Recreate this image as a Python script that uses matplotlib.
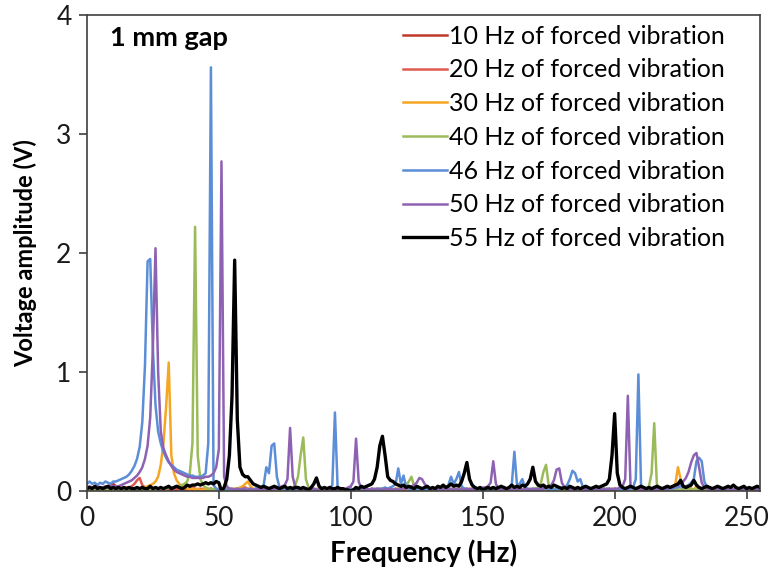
import numpy as np
import matplotlib.pyplot as plt

plt.rcParams['font.family'] = ['Lato', 'DejaVu Sans']

# spectrum grid, 1 Hz resolution
freq = np.arange(0, 256)

labels = ['10 Hz of forced vibration', '20 Hz of forced vibration', '30 Hz of forced vibration',
          '40 Hz of forced vibration', '46 Hz of forced vibration', '50 Hz of forced vibration',
          '55 Hz of forced vibration']

amp_10 = [
    0.01, 0.01, 0.01, 0.02, 0.02, 0.02, 0.03, 0.03, 0.04, 0.05, 0.06, 0.04, 0.02, 0.02, 0.01, 0.01,
    0.01, 0.01, 0.02, 0.01, 0.01, 0.01, 0.02, 0.01, 0.01, 0.01, 0.02, 0.01, 0.01, 0.01, 0.02, 0.01,
    0.01, 0.01, 0.01, 0.02, 0.01, 0.01, 0.01, 0.02, 0.01, 0.01, 0.01, 0.02, 0.01, 0.01, 0.01, 0.02,
    0.01, 0.01, 0.00, 0.01, 0.01, 0.01, 0.00, 0.01, 0.01, 0.01, 0.00, 0.01, 0.01, 0.01, 0.00, 0.01,
    0.01, 0.00, 0.01, 0.01, 0.00, 0.01, 0.01, 0.00, 0.01, 0.01, 0.00, 0.01, 0.01, 0.00, 0.01, 0.01,
    0.00, 0.01, 0.01, 0.00, 0.01, 0.01, 0.00, 0.01, 0.01, 0.00, 0.01, 0.01, 0.00, 0.01, 0.01, 0.00,
    0.01, 0.01, 0.00, 0.01, 0.01, 0.00, 0.01, 0.01, 0.00, 0.01, 0.01, 0.00, 0.01, 0.01, 0.00, 0.01,
    0.01, 0.00, 0.01, 0.01, 0.00, 0.01, 0.01, 0.00, 0.01, 0.01, 0.00, 0.01, 0.01, 0.00, 0.01, 0.01,
    0.00, 0.01, 0.01, 0.00, 0.01, 0.01, 0.00, 0.01, 0.01, 0.00, 0.01, 0.01, 0.00, 0.01, 0.01, 0.00,
    0.01, 0.01, 0.00, 0.01, 0.01, 0.00, 0.01, 0.01, 0.00, 0.01, 0.01, 0.00, 0.01, 0.01, 0.00, 0.01,
    0.01, 0.00, 0.01, 0.01, 0.00, 0.01, 0.01, 0.00, 0.01, 0.01, 0.00, 0.01, 0.01, 0.00, 0.01, 0.01,
    0.00, 0.01, 0.01, 0.00, 0.01, 0.01, 0.00, 0.01, 0.01, 0.00, 0.01, 0.01, 0.00, 0.01, 0.01, 0.00,
    0.01, 0.01, 0.00, 0.01, 0.01, 0.00, 0.01, 0.01, 0.00, 0.01, 0.01, 0.00, 0.01, 0.01, 0.00, 0.01,
    0.01, 0.00, 0.01, 0.01, 0.00, 0.01, 0.01, 0.00, 0.01, 0.01, 0.00, 0.01, 0.01, 0.00, 0.01, 0.01,
    0.00, 0.01, 0.01, 0.00, 0.01, 0.01, 0.00, 0.01, 0.01, 0.00, 0.01, 0.01, 0.00, 0.01, 0.01, 0.00,
    0.01, 0.01, 0.00, 0.01, 0.01, 0.00, 0.01, 0.01, 0.00, 0.01, 0.01, 0.00, 0.01, 0.01, 0.00, 0.01,
]

amp_20 = [
    0.02, 0.02, 0.02, 0.02, 0.02, 0.02, 0.02, 0.02, 0.03, 0.03, 0.03, 0.02, 0.02, 0.02, 0.03, 0.03,
    0.03, 0.04, 0.06, 0.09, 0.11, 0.05, 0.03, 0.02, 0.02, 0.01, 0.01, 0.02, 0.01, 0.01, 0.02, 0.01,
    0.01, 0.01, 0.02, 0.01, 0.01, 0.02, 0.01, 0.02, 0.03, 0.02, 0.01, 0.01, 0.02, 0.01, 0.01, 0.02,
    0.01, 0.01, 0.02, 0.01, 0.01, 0.02, 0.01, 0.01, 0.02, 0.01, 0.02, 0.03, 0.03, 0.02, 0.01, 0.01,
    0.02, 0.01, 0.01, 0.02, 0.01, 0.01, 0.02, 0.01, 0.01, 0.02, 0.01, 0.01, 0.02, 0.01, 0.01, 0.02,
    0.01, 0.01, 0.02, 0.01, 0.01, 0.02, 0.01, 0.01, 0.02, 0.01, 0.01, 0.02, 0.01, 0.01, 0.02, 0.01,
    0.01, 0.02, 0.01, 0.01, 0.02, 0.01, 0.01, 0.02, 0.01, 0.01, 0.02, 0.01, 0.01, 0.02, 0.01, 0.01,
    0.02, 0.01, 0.01, 0.02, 0.01, 0.01, 0.02, 0.01, 0.01, 0.02, 0.01, 0.01, 0.02, 0.01, 0.01, 0.02,
    0.01, 0.01, 0.02, 0.01, 0.01, 0.02, 0.01, 0.01, 0.02, 0.01, 0.01, 0.02, 0.01, 0.01, 0.02, 0.01,
    0.01, 0.02, 0.01, 0.01, 0.02, 0.01, 0.01, 0.02, 0.01, 0.01, 0.02, 0.01, 0.01, 0.02, 0.01, 0.01,
    0.02, 0.01, 0.01, 0.02, 0.01, 0.01, 0.02, 0.01, 0.01, 0.02, 0.01, 0.01, 0.02, 0.01, 0.01, 0.02,
    0.01, 0.01, 0.02, 0.01, 0.01, 0.02, 0.01, 0.01, 0.02, 0.01, 0.01, 0.02, 0.01, 0.01, 0.02, 0.01,
    0.01, 0.02, 0.01, 0.01, 0.02, 0.01, 0.01, 0.02, 0.01, 0.01, 0.02, 0.01, 0.01, 0.02, 0.01, 0.01,
    0.02, 0.01, 0.01, 0.02, 0.01, 0.01, 0.02, 0.01, 0.01, 0.02, 0.01, 0.01, 0.02, 0.01, 0.01, 0.02,
    0.01, 0.01, 0.02, 0.01, 0.01, 0.02, 0.01, 0.01, 0.02, 0.01, 0.01, 0.02, 0.01, 0.01, 0.02, 0.01,
    0.01, 0.02, 0.01, 0.01, 0.02, 0.01, 0.01, 0.02, 0.01, 0.01, 0.02, 0.01, 0.01, 0.02, 0.01, 0.01,
]

amp_30 = [
    0.01, 0.01, 0.02, 0.01, 0.01, 0.01, 0.02, 0.01, 0.01, 0.01, 0.02, 0.01, 0.01, 0.01, 0.02, 0.01,
    0.01, 0.01, 0.02, 0.02, 0.02, 0.03, 0.03, 0.04, 0.05, 0.06, 0.08, 0.12, 0.22, 0.40, 0.70, 1.08,
    0.30, 0.15, 0.09, 0.06, 0.04, 0.03, 0.02, 0.02, 0.02, 0.01, 0.02, 0.01, 0.01, 0.02, 0.01, 0.01,
    0.02, 0.01, 0.01, 0.02, 0.01, 0.01, 0.02, 0.01, 0.02, 0.02, 0.03, 0.04, 0.06, 0.08, 0.04, 0.02,
    0.01, 0.01, 0.02, 0.01, 0.01, 0.02, 0.01, 0.01, 0.02, 0.01, 0.01, 0.02, 0.01, 0.01, 0.02, 0.01,
    0.01, 0.02, 0.01, 0.01, 0.02, 0.01, 0.01, 0.02, 0.01, 0.01, 0.02, 0.01, 0.01, 0.02, 0.01, 0.01,
    0.02, 0.01, 0.01, 0.02, 0.01, 0.01, 0.02, 0.01, 0.01, 0.02, 0.01, 0.01, 0.02, 0.01, 0.01, 0.02,
    0.01, 0.01, 0.02, 0.01, 0.01, 0.02, 0.01, 0.01, 0.02, 0.01, 0.02, 0.03, 0.02, 0.01, 0.01, 0.02,
    0.01, 0.01, 0.02, 0.01, 0.01, 0.02, 0.01, 0.01, 0.02, 0.01, 0.01, 0.02, 0.01, 0.01, 0.02, 0.01,
    0.01, 0.02, 0.01, 0.01, 0.02, 0.01, 0.01, 0.02, 0.01, 0.01, 0.02, 0.01, 0.01, 0.02, 0.01, 0.01,
    0.02, 0.01, 0.01, 0.02, 0.01, 0.01, 0.02, 0.01, 0.01, 0.02, 0.01, 0.01, 0.02, 0.01, 0.01, 0.02,
    0.01, 0.01, 0.02, 0.01, 0.01, 0.02, 0.01, 0.01, 0.02, 0.01, 0.01, 0.02, 0.01, 0.01, 0.02, 0.01,
    0.01, 0.02, 0.01, 0.01, 0.02, 0.01, 0.01, 0.02, 0.01, 0.01, 0.02, 0.01, 0.01, 0.02, 0.01, 0.01,
    0.02, 0.01, 0.01, 0.02, 0.01, 0.01, 0.02, 0.01, 0.01, 0.02, 0.01, 0.01, 0.02, 0.01, 0.02, 0.06,
    0.20, 0.10, 0.03, 0.02, 0.01, 0.02, 0.01, 0.04, 0.02, 0.01, 0.02, 0.01, 0.01, 0.02, 0.01, 0.01,
    0.01, 0.02, 0.01, 0.01, 0.02, 0.01, 0.01, 0.02, 0.01, 0.01, 0.02, 0.01, 0.01, 0.02, 0.01, 0.01,
]

amp_40 = [
    0.01, 0.02, 0.01, 0.01, 0.02, 0.01, 0.01, 0.02, 0.01, 0.01, 0.02, 0.01, 0.01, 0.02, 0.01, 0.01,
    0.02, 0.01, 0.01, 0.02, 0.01, 0.01, 0.02, 0.01, 0.01, 0.02, 0.01, 0.02, 0.02, 0.02, 0.02, 0.03,
    0.03, 0.03, 0.04, 0.04, 0.05, 0.06, 0.08, 0.15, 0.40, 2.22, 0.30, 0.10, 0.05, 0.03, 0.02, 0.02,
    0.01, 0.02, 0.01, 0.01, 0.02, 0.01, 0.01, 0.02, 0.01, 0.01, 0.02, 0.01, 0.01, 0.02, 0.01, 0.01,
    0.02, 0.01, 0.01, 0.02, 0.01, 0.01, 0.02, 0.01, 0.01, 0.02, 0.01, 0.01, 0.02, 0.02, 0.03, 0.05,
    0.12, 0.30, 0.45, 0.10, 0.03, 0.02, 0.01, 0.01, 0.02, 0.01, 0.01, 0.02, 0.01, 0.01, 0.02, 0.01,
    0.01, 0.02, 0.01, 0.01, 0.02, 0.01, 0.01, 0.02, 0.01, 0.01, 0.02, 0.01, 0.01, 0.02, 0.01, 0.01,
    0.02, 0.01, 0.01, 0.02, 0.01, 0.01, 0.02, 0.02, 0.03, 0.05, 0.08, 0.12, 0.04, 0.02, 0.01, 0.01,
    0.02, 0.01, 0.01, 0.02, 0.01, 0.01, 0.02, 0.01, 0.01, 0.02, 0.01, 0.01, 0.02, 0.01, 0.01, 0.02,
    0.01, 0.01, 0.02, 0.01, 0.01, 0.02, 0.01, 0.01, 0.02, 0.01, 0.01, 0.02, 0.01, 0.01, 0.02, 0.01,
    0.01, 0.02, 0.01, 0.01, 0.02, 0.01, 0.01, 0.02, 0.01, 0.02, 0.02, 0.03, 0.06, 0.16, 0.22, 0.05,
    0.02, 0.01, 0.01, 0.02, 0.01, 0.01, 0.02, 0.01, 0.01, 0.02, 0.01, 0.01, 0.02, 0.01, 0.01, 0.02,
    0.01, 0.01, 0.02, 0.01, 0.01, 0.02, 0.01, 0.01, 0.02, 0.01, 0.01, 0.02, 0.01, 0.01, 0.02, 0.01,
    0.01, 0.02, 0.01, 0.02, 0.02, 0.04, 0.15, 0.57, 0.06, 0.02, 0.01, 0.01, 0.02, 0.01, 0.01, 0.02,
    0.01, 0.01, 0.02, 0.01, 0.01, 0.02, 0.01, 0.01, 0.02, 0.01, 0.01, 0.02, 0.01, 0.01, 0.02, 0.01,
    0.01, 0.02, 0.01, 0.01, 0.02, 0.01, 0.01, 0.02, 0.01, 0.01, 0.02, 0.01, 0.01, 0.02, 0.01, 0.01,
]

amp_46 = [
    0.06, 0.08, 0.06, 0.07, 0.05, 0.07, 0.06, 0.08, 0.07, 0.06, 0.08, 0.08, 0.09, 0.10, 0.11, 0.12,
    0.14, 0.17, 0.21, 0.27, 0.37, 0.58, 1.05, 1.93, 1.95, 1.20, 0.72, 0.50, 0.40, 0.33, 0.28, 0.24,
    0.22, 0.20, 0.18, 0.17, 0.16, 0.15, 0.14, 0.13, 0.13, 0.12, 0.12, 0.12, 0.13, 0.15, 0.40, 3.56,
    0.05, 0.02, 0.01, 0.02, 0.01, 0.01, 0.02, 0.01, 0.01, 0.02, 0.01, 0.01, 0.02, 0.01, 0.02, 0.01,
    0.02, 0.02, 0.03, 0.05, 0.20, 0.15, 0.38, 0.40, 0.12, 0.03, 0.02, 0.01, 0.01, 0.02, 0.01, 0.01,
    0.02, 0.01, 0.01, 0.02, 0.01, 0.01, 0.02, 0.01, 0.01, 0.02, 0.01, 0.02, 0.02, 0.05, 0.66, 0.04,
    0.01, 0.02, 0.01, 0.01, 0.02, 0.01, 0.01, 0.02, 0.01, 0.02, 0.01, 0.01, 0.02, 0.01, 0.02, 0.02,
    0.02, 0.03, 0.02, 0.03, 0.04, 0.06, 0.19, 0.06, 0.13, 0.03, 0.02, 0.01, 0.02, 0.01, 0.02, 0.01,
    0.01, 0.02, 0.01, 0.02, 0.02, 0.03, 0.02, 0.03, 0.03, 0.05, 0.12, 0.06, 0.10, 0.16, 0.04, 0.02,
    0.02, 0.01, 0.02, 0.01, 0.02, 0.01, 0.01, 0.02, 0.01, 0.01, 0.02, 0.01, 0.02, 0.02, 0.01, 0.02,
    0.02, 0.05, 0.33, 0.05, 0.06, 0.10, 0.03, 0.02, 0.01, 0.02, 0.01, 0.02, 0.01, 0.02, 0.02, 0.01,
    0.02, 0.01, 0.02, 0.02, 0.03, 0.03, 0.05, 0.10, 0.17, 0.15, 0.08, 0.10, 0.03, 0.02, 0.01, 0.02,
    0.01, 0.02, 0.01, 0.02, 0.01, 0.02, 0.02, 0.01, 0.02, 0.01, 0.02, 0.01, 0.02, 0.01, 0.02, 0.03,
    0.10, 0.98, 0.05, 0.02, 0.01, 0.02, 0.01, 0.02, 0.01, 0.02, 0.01, 0.02, 0.01, 0.02, 0.02, 0.03,
    0.03, 0.04, 0.03, 0.04, 0.05, 0.07, 0.10, 0.25, 0.28, 0.25, 0.08, 0.03, 0.02, 0.02, 0.01, 0.02,
    0.01, 0.02, 0.01, 0.02, 0.01, 0.01, 0.02, 0.01, 0.02, 0.01, 0.01, 0.02, 0.01, 0.02, 0.01, 0.01,
]

amp_50 = [
    0.03, 0.04, 0.03, 0.03, 0.04, 0.03, 0.03, 0.04, 0.03, 0.04, 0.04, 0.04, 0.04, 0.05, 0.06, 0.07,
    0.08, 0.09, 0.11, 0.13, 0.16, 0.20, 0.27, 0.38, 0.62, 1.20, 2.04, 1.00, 0.50, 0.36, 0.30, 0.25,
    0.21, 0.18, 0.16, 0.15, 0.14, 0.13, 0.12, 0.12, 0.11, 0.11, 0.11, 0.11, 0.11, 0.12, 0.12, 0.13,
    0.15, 0.20, 0.35, 2.77, 0.12, 0.04, 0.02, 0.02, 0.01, 0.02, 0.01, 0.02, 0.01, 0.01, 0.02, 0.01,
    0.01, 0.02, 0.01, 0.02, 0.01, 0.02, 0.01, 0.02, 0.02, 0.03, 0.04, 0.05, 0.10, 0.53, 0.12, 0.03,
    0.02, 0.01, 0.02, 0.01, 0.02, 0.01, 0.02, 0.01, 0.01, 0.02, 0.01, 0.02, 0.01, 0.02, 0.01, 0.02,
    0.01, 0.02, 0.02, 0.03, 0.04, 0.08, 0.44, 0.08, 0.02, 0.01, 0.02, 0.01, 0.02, 0.01, 0.02, 0.01,
    0.01, 0.02, 0.01, 0.02, 0.01, 0.02, 0.01, 0.02, 0.02, 0.02, 0.03, 0.04, 0.05, 0.07, 0.11, 0.10,
    0.06, 0.03, 0.02, 0.01, 0.02, 0.01, 0.02, 0.01, 0.02, 0.01, 0.02, 0.01, 0.02, 0.01, 0.02, 0.01,
    0.02, 0.01, 0.02, 0.01, 0.02, 0.02, 0.03, 0.03, 0.04, 0.07, 0.25, 0.06, 0.02, 0.01, 0.02, 0.01,
    0.02, 0.01, 0.02, 0.01, 0.02, 0.01, 0.02, 0.01, 0.02, 0.01, 0.02, 0.01, 0.02, 0.02, 0.03, 0.04,
    0.05, 0.09, 0.18, 0.19, 0.07, 0.03, 0.02, 0.01, 0.02, 0.01, 0.02, 0.01, 0.02, 0.01, 0.02, 0.01,
    0.02, 0.01, 0.02, 0.01, 0.02, 0.01, 0.02, 0.01, 0.02, 0.02, 0.03, 0.04, 0.10, 0.80, 0.05, 0.02,
    0.01, 0.02, 0.01, 0.02, 0.01, 0.02, 0.01, 0.02, 0.01, 0.02, 0.01, 0.02, 0.02, 0.03, 0.03, 0.04,
    0.05, 0.06, 0.08, 0.11, 0.16, 0.24, 0.30, 0.32, 0.20, 0.07, 0.03, 0.02, 0.01, 0.02, 0.01, 0.02,
    0.01, 0.02, 0.01, 0.02, 0.01, 0.01, 0.02, 0.01, 0.02, 0.01, 0.01, 0.02, 0.01, 0.02, 0.01, 0.01,
]

amp_55 = [
    0.02, 0.03, 0.02, 0.04, 0.02, 0.03, 0.02, 0.03, 0.04, 0.02, 0.03, 0.02, 0.03, 0.02, 0.03, 0.02,
    0.03, 0.02, 0.02, 0.03, 0.02, 0.03, 0.02, 0.02, 0.04, 0.02, 0.03, 0.02, 0.03, 0.02, 0.03, 0.04,
    0.02, 0.03, 0.04, 0.03, 0.02, 0.03, 0.05, 0.04, 0.05, 0.05, 0.06, 0.05, 0.06, 0.07, 0.06, 0.07,
    0.06, 0.08, 0.07, 0.00, 0.03, 0.10, 0.30, 0.80, 1.94, 0.60, 0.20, 0.14, 0.12, 0.12, 0.09, 0.06,
    0.05, 0.04, 0.03, 0.04, 0.03, 0.02, 0.03, 0.04, 0.03, 0.02, 0.03, 0.04, 0.02, 0.03, 0.02, 0.03,
    0.03, 0.02, 0.03, 0.02, 0.01, 0.03, 0.06, 0.11, 0.04, 0.02, 0.03, 0.02, 0.03, 0.02, 0.02, 0.03,
    0.02, 0.02, 0.01, 0.01, 0.00, 0.01, 0.03, 0.02, 0.04, 0.03, 0.04, 0.05, 0.06, 0.10, 0.20, 0.38,
    0.46, 0.30, 0.12, 0.09, 0.08, 0.06, 0.05, 0.04, 0.05, 0.03, 0.04, 0.03, 0.02, 0.04, 0.03, 0.02,
    0.03, 0.04, 0.02, 0.03, 0.02, 0.04, 0.03, 0.05, 0.03, 0.04, 0.06, 0.04, 0.05, 0.04, 0.08, 0.15,
    0.24, 0.10, 0.05, 0.03, 0.02, 0.03, 0.01, 0.02, 0.03, 0.02, 0.03, 0.02, 0.03, 0.04, 0.03, 0.02,
    0.03, 0.05, 0.03, 0.04, 0.03, 0.05, 0.04, 0.06, 0.10, 0.20, 0.08, 0.05, 0.04, 0.05, 0.03, 0.04,
    0.03, 0.05, 0.04, 0.03, 0.02, 0.03, 0.02, 0.04, 0.03, 0.02, 0.03, 0.02, 0.03, 0.04, 0.03, 0.02,
    0.03, 0.04, 0.03, 0.04, 0.05, 0.06, 0.10, 0.30, 0.65, 0.15, 0.05, 0.03, 0.02, 0.03, 0.04, 0.03,
    0.02, 0.03, 0.04, 0.03, 0.02, 0.03, 0.02, 0.03, 0.04, 0.03, 0.02, 0.03, 0.04, 0.03, 0.04, 0.05,
    0.06, 0.09, 0.04, 0.03, 0.04, 0.05, 0.09, 0.05, 0.03, 0.02, 0.03, 0.04, 0.03, 0.02, 0.03, 0.04,
    0.03, 0.02, 0.03, 0.04, 0.03, 0.05, 0.03, 0.02, 0.03, 0.04, 0.02, 0.03, 0.02, 0.03, 0.04, 0.03,
]

series = [amp_10, amp_20, amp_30, amp_40, amp_46, amp_50, amp_55]
colors = ['#C0392B', '#E05A50', '#F5A623', '#9BBB59', '#5B8ED6', '#8E62B2', 'black']
widths = [1.8, 1.8, 1.8, 1.8, 1.8, 1.8, 2.4]

fig, ax = plt.subplots(figsize=(7.69, 5.77), dpi=100)
fig.subplots_adjust(left=0.113, right=0.988, bottom=0.149, top=0.974)

for y, c, w, lab in zip(series, colors, widths, labels):
    ax.plot(freq, y, color=c, linewidth=w, label=lab)

ax.set_xlim(0, 255)
ax.set_ylim(0, 4)
ax.set_xticks([0, 50, 100, 150, 200, 250])
ax.set_yticks([0, 1, 2, 3, 4])
ax.tick_params(direction='out', length=6, width=1.2, labelsize=19, colors='#404040',
               labelcolor='#1a1a1a', pad=5)
for s in ax.spines.values():
    s.set_color('#404040')
    s.set_linewidth(1.2)

ax.set_xlabel('Frequency (Hz)', fontsize=20, fontweight='bold', labelpad=6)
ax.set_ylabel('Voltage amplitude (V)', fontsize=17, fontweight='bold', labelpad=14)
ax.text(0.034, 0.952, '1 mm gap', transform=ax.transAxes, fontsize=19.5,
        fontweight='bold', va='center', ha='left')

ax.legend(loc='upper right', bbox_to_anchor=(0.949, 0.980), frameon=False, fontsize=18,
          handlelength=1.75, handletextpad=0.1, labelspacing=0.43,
          borderaxespad=0, borderpad=0)

fig.savefig('out.png', dpi=100)
